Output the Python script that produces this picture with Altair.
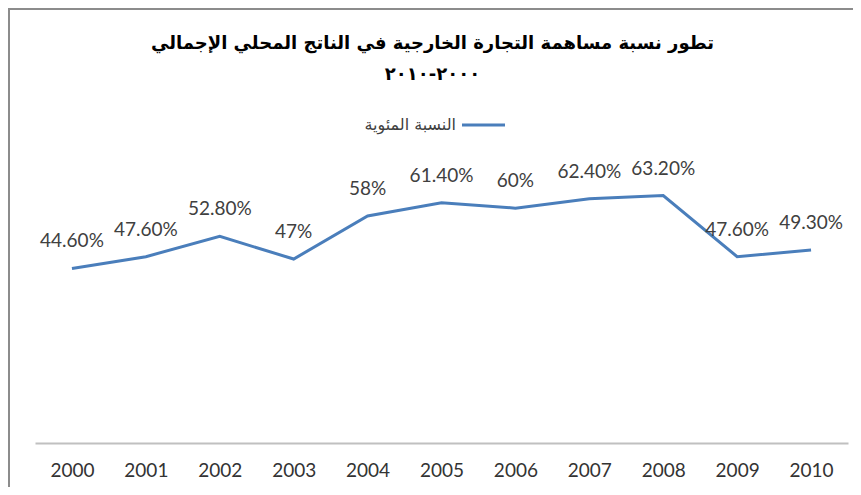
import altair as alt
import pandas as pd

# ---- data ----
years = ["2000", "2001", "2002", "2003", "2004", "2005", "2006", "2007", "2008", "2009", "2010"]
values = [44.6, 47.6, 52.8, 47.0, 58.0, 61.4, 60.0, 62.4, 63.2, 47.6, 49.3]
title_lines = [
    "تطور نسبة مساهمة التجارة الخارجية في الناتج المحلي الإجمالي",
    "٢٠٠٠-٢٠١٠",
]
series_name = "النسبة المئوية"


def fmt(v):
    return f"{int(v)}%" if float(v).is_integer() else f"{v:.2f}%"


df = pd.DataFrame({"year": years, "value": values, "label": [fmt(v) for v in values]})
leg_df = pd.DataFrame({"name": [series_name]})

W, H = 813, 274
LINE_COLOR = "#4a7ebb"

x = alt.X(
    "year:O",
    scale=alt.Scale(type="point", padding=0.5),
    axis=alt.Axis(
        title=None, labelAngle=0, ticks=False, grid=False,
        domainColor="#c0c0c0", domainWidth=2,
        labelFont="Lato", labelFontSize=19, labelColor="#333333", labelPadding=18,
    ),
)
y = alt.Y("value:Q", scale=alt.Scale(domain=[0, 70]), axis=None)

line = alt.Chart(df).mark_line(color=LINE_COLOR, strokeWidth=3).encode(x=x, y=y)
labels = alt.Chart(df).mark_text(
    font="Lato", fontSize=19, color="#404040", baseline="bottom", dy=-17
).encode(x=x, y=y, text="label:N")

leg_line = alt.Chart(leg_df).mark_rule(color=LINE_COLOR, strokeWidth=3).encode(
    x=alt.value(427), x2=alt.value(470), y=alt.value(-44)
)
leg_text = alt.Chart(leg_df).mark_text(
    font="DejaVu Sans", fontSize=16, color="#404040", align="right", baseline="middle"
).encode(x=alt.value(421), y=alt.value(-44), text="name:N")

# chart frame (left and top edges visible in the reference)
border = alt.Chart(leg_df).mark_rect(fill=None, stroke="#8c8c8c", strokeWidth=2).encode(
    x=alt.value(-26), y=alt.value(-160), x2=alt.value(900), y2=alt.value(600)
)

chart = (
    alt.layer(border, line, labels, leg_line, leg_text)
    .properties(
        width=W,
        height=H,
        title=alt.TitleParams(
            text=title_lines, font="DejaVu Sans", fontSize=18, fontWeight="bold",
            color="#000000", anchor="middle", frame="group", offset=-76, lineHeight=31,
            dx=-9,
        ),
        autosize=alt.AutoSizeParams(type="none"),
        padding={"left": 27, "top": 161, "right": 5, "bottom": 44},
        background="white",
    )
    .configure_view(stroke=None)
)

chart.save("out.html", embed_options={"renderer": "svg", "actions": False})
